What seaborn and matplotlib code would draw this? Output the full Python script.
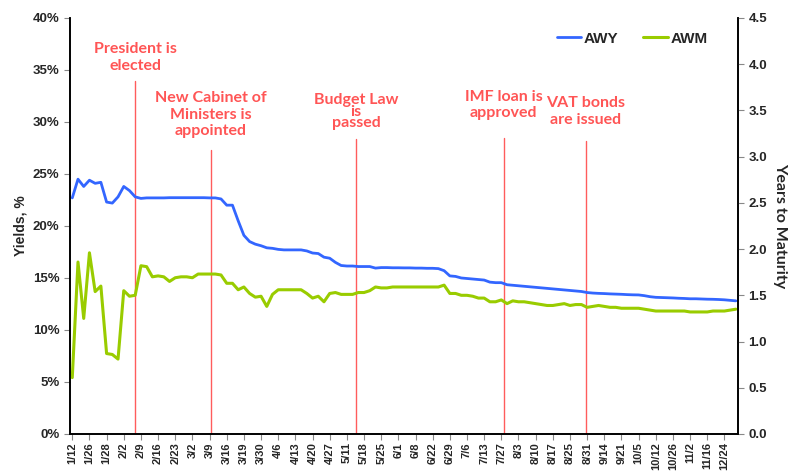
import matplotlib
matplotlib.use("Agg")
import matplotlib.pyplot as plt
import seaborn as sns
import numpy as np
import pandas as pd

# x-axis labels, one every 3 observations
DATE_LABELS = ["1/12", "1/26", "1/28", "2/2", "2/9", "2/16", "2/23", "3/2", "3/9",
               "3/16", "3/19", "3/30", "4/6", "4/13", "4/20", "4/27", "5/11", "5/18",
               "5/25", "6/1", "6/8", "6/22", "6/29", "7/6", "7/13", "7/27", "8/3",
               "8/10", "8/17", "8/25", "8/31", "9/14", "9/21", "10/5", "10/12",
               "10/26", "11/2", "11/16", "12/24"]
LABEL_STEP = 3

# average weighted yield, %
AWY = [22.7, 24.5, 23.8, 24.4, 24.1, 24.2, 22.3, 22.2, 22.8, 23.8,
       23.4, 22.8, 22.65, 22.7, 22.7, 22.7, 22.7, 22.72, 22.72, 22.72,
       22.72, 22.72, 22.72, 22.72, 22.7, 22.7, 22.6, 22.0, 22.0, 20.5,
       19.1, 18.5, 18.25, 18.1, 17.9, 17.85, 17.75, 17.7, 17.7, 17.7,
       17.7, 17.6, 17.4, 17.35, 17.0, 16.9, 16.5, 16.2, 16.15, 16.15,
       16.1, 16.1, 16.1, 15.95, 16.0, 16.0, 15.98, 15.98, 15.97, 15.97,
       15.95, 15.95, 15.93, 15.93, 15.9, 15.7, 15.2, 15.15, 15.0, 14.95,
       14.9, 14.85, 14.8, 14.6, 14.55, 14.55, 14.35, 14.3, 14.25, 14.2,
       14.15, 14.1, 14.05, 14.0, 13.95, 13.9, 13.85, 13.8, 13.75, 13.7,
       13.6, 13.55, 13.52, 13.5, 13.47, 13.45, 13.43, 13.4, 13.38, 13.37,
       13.3, 13.2, 13.14, 13.12, 13.1, 13.08, 13.05, 13.03, 13.0, 13.0,
       12.98, 12.96, 12.95, 12.93, 12.9, 12.85, 12.8]

# average weighted maturity, years
AWM = [0.61, 1.86, 1.25, 1.96, 1.54, 1.60, 0.87, 0.86, 0.81, 1.55,
       1.49, 1.50, 1.82, 1.81, 1.70, 1.71, 1.70, 1.65, 1.69, 1.70,
       1.70, 1.69, 1.73, 1.73, 1.73, 1.73, 1.72, 1.63, 1.63, 1.56,
       1.59, 1.52, 1.48, 1.49, 1.38, 1.51, 1.56, 1.56, 1.56, 1.56,
       1.56, 1.52, 1.47, 1.49, 1.43, 1.52, 1.53, 1.51, 1.51, 1.51,
       1.53, 1.53, 1.55, 1.59, 1.58, 1.58, 1.59, 1.59, 1.59, 1.59,
       1.59, 1.59, 1.59, 1.59, 1.59, 1.61, 1.52, 1.52, 1.50, 1.50,
       1.49, 1.47, 1.47, 1.43, 1.43, 1.45, 1.41, 1.44, 1.43, 1.43,
       1.42, 1.41, 1.40, 1.39, 1.39, 1.40, 1.41, 1.39, 1.40, 1.40,
       1.37, 1.38, 1.39, 1.38, 1.37, 1.37, 1.36, 1.36, 1.36, 1.36,
       1.35, 1.34, 1.33, 1.33, 1.33, 1.33, 1.33, 1.33, 1.32, 1.32,
       1.32, 1.32, 1.33, 1.33, 1.33, 1.34, 1.35]

EVENTS = ["President is\nelected", "New Cabinet of\nMinisters is\nappointed",
          "Budget Law\nis\npassed", "IMF loan is\napproved", "VAT bonds\nare issued"]
EVENT_POS = [11.0, 24.25, 49.6, 75.4, 89.8]
EVENT_TOP = [33.9, 27.3, 28.4, 28.5, 28.2]
EVENT_TEXT_Y = [36.2, 30.7, 31.0, 31.6, 31.0]
EVENT_LINESPACING = [1.35, 1.2, 0.75, 1.2, 1.2]

BLUE = "#3366FF"
GREEN = "#99CC00"
RED = "#FF5555"
NARROW = ["Lato", "DejaVu Sans"]

sns.set_style("ticks")
plt.rcParams["font.family"] = ["Liberation Sans", "DejaVu Sans"]

df = pd.DataFrame({"obs": np.arange(len(AWY)), "AWY": AWY, "AWM": AWM})

fig = plt.figure(figsize=(7.98, 4.73), dpi=100)
ax = fig.add_axes([0.0877, 0.0825, 0.8373, 0.8795])
ax2 = ax.twinx()

sns.lineplot(data=df, x="obs", y="AWY", ax=ax, color=BLUE, lw=2.0, label="AWY", legend=False)
sns.lineplot(data=df, x="obs", y="AWM", ax=ax2, color=GREEN, lw=2.2, label="AWM", legend=False)

# event markers
for name, pos, top, ty, ls in zip(EVENTS, EVENT_POS, EVENT_TOP, EVENT_TEXT_Y, EVENT_LINESPACING):
    ax.plot([pos, pos], [0, top], color="#FF3333", lw=1.0, alpha=0.8, zorder=1)
    ax.text(pos, ty, name, ha="center", va="center", color=RED, fontsize=11.5,
            fontweight="bold", linespacing=ls, family=NARROW)

ax.set_xlim(-0.4, len(AWY) - 0.6)
ax.set_ylim(0, 40)
ax2.set_ylim(0, 4.5)
ax.set_yticks(np.arange(0, 41, 5))
ax.set_yticklabels([f"{v}%" for v in range(0, 41, 5)])
ax2.set_yticks(np.arange(0, 4.51, 0.5))
ax2.set_yticklabels([f"{v:.1f}" for v in np.arange(0, 4.51, 0.5)])

ax.set_xticks(np.arange(len(DATE_LABELS)) * LABEL_STEP)
ax.set_xticklabels(DATE_LABELS, rotation=90)

for a in (ax, ax2):
    a.tick_params(axis="y", labelsize=9.5, color="#888888", length=4)
    a.tick_params(axis="x", labelsize=8, color="#888888", length=4, pad=2)
    for lab in a.get_yticklabels() + a.get_xticklabels():
        lab.set_fontweight("bold")
    for side in ("left", "right", "bottom"):
        a.spines[side].set_color("black")
        a.spines[side].set_linewidth(1.2)
    a.spines["top"].set_visible(False)

ax.set_xlabel("")
ax.set_ylabel("Yields, %", fontsize=10, fontweight="bold")
ax2.set_ylabel("Years to Maturity", fontsize=11.5, fontweight="bold", rotation=270,
               labelpad=14, family=NARROW)

h1, l1 = ax.get_legend_handles_labels()
h2, l2 = ax2.get_legend_handles_labels()
ax2.legend(h1 + h2, l1 + l2, loc="upper right", bbox_to_anchor=(0.975, 1.0),
           ncol=2, frameon=False, handlelength=1.6, handletextpad=0.2,
           columnspacing=1.6, prop={"weight": "bold", "size": 11})

fig.savefig("out.png", dpi=100)
